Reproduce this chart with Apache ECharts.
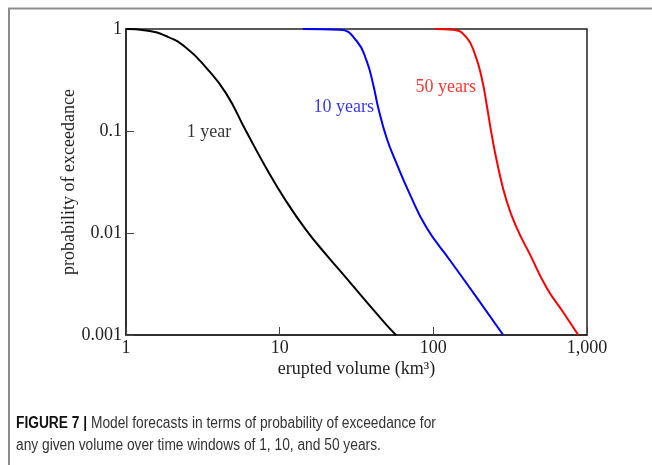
<!DOCTYPE html>
<html>
<head>
<meta charset="utf-8">
<script src="https://cdn.jsdelivr.net/npm/echarts@6/dist/echarts.min.js"></script>
<style>
  html, body { margin: 0; padding: 0; background: #fff; }
  #chart { width: 652px; height: 465px; }
</style>
</head>
<body>
<div id="chart"></div>
<script>
// ---- data ----
const xTickLabels = ['1', '10', '100', '1,000'];          // 10^0 .. 10^3
const yTickLabels = ['0.001', '0.01', '0.1', '1'];        // 10^-3 .. 10^0

const oneYearX = [1, 1.35, 1.82, 2.46, 3.32, 4.47, 6.04, 8.15, 11.0, 14.8, 20.0, 27.0, 36.4, 49.2, 57.1];
const oneYearY = [1, 0.969, 0.854, 0.656, 0.418, 0.235, 0.1, 0.0437, 0.0206, 0.0108, 0.00617, 0.00365, 0.00215, 0.00127, 0.001];

const tenYearsX = [14.2, 24.7, 31.7, 36.8, 40.6, 43.8, 49.6, 57.7, 70.4, 90.4, 128.2, 191.3, 285];
const tenYearsY = [1, 0.984, 0.763, 0.486, 0.286, 0.169, 0.0859, 0.0478, 0.0239, 0.01127, 0.00541, 0.00234, 0.001];

const fiftyYearsX = [102.4, 134.8, 164.7, 186.6, 206.3, 222.3, 239.5, 264.4, 299.9, 348.3, 425.1, 545.8, 699.8, 877.5];
const fiftyYearsY = [1, 0.984, 0.822, 0.564, 0.333, 0.182, 0.0926, 0.0437, 0.0206, 0.01127, 0.00617, 0.00291, 0.00167, 0.001];

const seriesNames = ['1 year', '10 years', '50 years'];
const labelX = [3.47, 26.1, 120.4];
const labelY = [0.0977, 0.169, 0.2676];

const xAxisTitle = 'erupted volume (km³)';
const yAxisTitle = 'probability of exceedance';
const captionBold = 'FIGURE 7 |';
const captionLine1 = ' Model forecasts in terms of probability of exceedance for';
const captionLine2 = 'any given volume over time windows of 1, 10, and 50 years.';

// ---- styles ----
const colors = ['#000000', '#0000ff', '#ff0000'];
const serif = '"Liberation Serif", "Times New Roman", serif';
const sans = '"Liberation Sans", Arial, sans-serif';

function pairs(xs, ys) { return xs.map((x, i) => [x, ys[i]]); }
const curves = [pairs(oneYearX, oneYearY), pairs(tenYearsX, tenYearsY), pairs(fiftyYearsX, fiftyYearsY)];

const chart = echarts.init(document.getElementById('chart'), null, { renderer: 'canvas' });

const series = [];
curves.forEach((d, i) => {
  series.push({
    type: 'line',
    name: seriesNames[i],
    data: d,
    smooth: 0.5,
    showSymbol: false,
    symbol: 'none',
    clip: false,
    lineStyle: { color: colors[i], width: 2 },
    z: 3
  });
  series.push({
    type: 'scatter',
    data: [[labelX[i], labelY[i]]],
    symbolSize: 1,
    itemStyle: { color: 'rgba(0,0,0,0)' },
    silent: true,
    label: {
      show: true,
      position: 'inside',
      formatter: seriesNames[i],
      color: colors[i],
      fontFamily: serif,
      fontSize: 18
    },
    z: 4
  });
});

chart.setOption({
  animation: false,
  backgroundColor: '#ffffff',
  grid: {
    left: 126, right: 65, top: 29, bottom: 130,
    show: true, borderColor: '#222', borderWidth: 1.5, backgroundColor: 'transparent'
  },
  xAxis: {
    type: 'log', logBase: 10, min: 1, max: 1000,
    name: xAxisTitle, nameLocation: 'middle', nameGap: 25, nameMoveOverlap: false,
    nameTextStyle: { fontFamily: serif, fontSize: 18, color: '#222' },
    axisLine: { show: true, lineStyle: { color: '#222', width: 1.5 } },
    axisTick: { show: true, inside: true, length: 8, lineStyle: { color: '#444', width: 1 } },
    minorTick: { show: false },
    splitLine: { show: false },
    axisLabel: {
      margin: 4, fontFamily: serif, fontSize: 18, color: '#222',
      formatter: v => xTickLabels[Math.round(Math.log10(v))]
    }
  },
  yAxis: {
    type: 'log', logBase: 10, min: 0.001, max: 1,
    name: yAxisTitle, nameLocation: 'middle', nameGap: 48, nameRotate: 90, nameMoveOverlap: false,
    nameTextStyle: { fontFamily: serif, fontSize: 18, color: '#222' },
    axisLine: { show: true, lineStyle: { color: '#222', width: 1.5 } },
    axisTick: { show: true, inside: true, length: 8, lineStyle: { color: '#444', width: 1 } },
    minorTick: { show: false },
    splitLine: { show: false },
    axisLabel: {
      margin: 4, fontFamily: serif, fontSize: 18, color: '#222',
      formatter: v => yTickLabels[Math.round(Math.log10(v)) + 3]
    }
  },
  graphic: [
    {
      type: 'polyline', silent: true,
      shape: { points: [[9, 465], [9, 8.5], [652, 8.5]] },
      style: { stroke: '#8c8c8c', lineWidth: 2, fill: null }
    },
    {
      type: 'text', x: 16, y: 424, scaleX: 0.86,
      style: {
        text: '{b|' + captionBold + '}' + captionLine1,
        font: '16px ' + sans,
        fill: '#333', verticalAlign: 'middle',
        rich: { b: { fontWeight: 'bold', fill: '#111', fontSize: 16, fontFamily: sans } }
      }
    },
    {
      type: 'text', x: 16, y: 446, scaleX: 0.86,
      style: {
        text: captionLine2,
        font: '16px ' + sans,
        fill: '#333', verticalAlign: 'middle'
      }
    }
  ],
  series: series
});
</script>
</body>
</html>
